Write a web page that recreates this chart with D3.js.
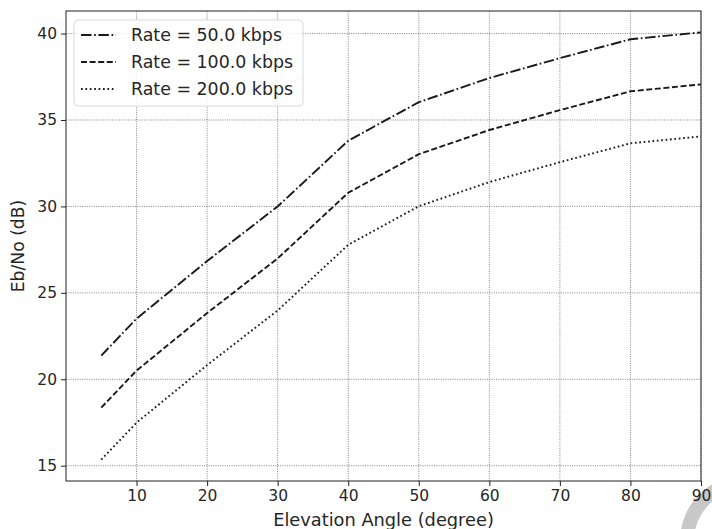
<!DOCTYPE html>
<html>
<head>
<meta charset="utf-8">
<script src="https://cdn.jsdelivr.net/npm/d3@7"></script>
<style>
  html, body { margin: 0; padding: 0; background: #fff; }
  svg { display: block; }
  text { font-family: "DejaVu Sans", sans-serif; fill: #262626; }
</style>
</head>
<body>
<svg id="chart" width="712" height="529"></svg>
<script>
const elevation = [5, 10, 20, 30, 40, 50, 60, 70, 80, 90];
const rate50  = [21.37, 23.51, 26.84, 30.00, 33.80, 36.03, 37.43, 38.58, 39.67, 40.07];
const rate100 = [18.36, 20.50, 23.83, 26.99, 30.79, 33.02, 34.42, 35.57, 36.66, 37.06];
const rate200 = [15.35, 17.49, 20.82, 23.98, 27.78, 30.01, 31.41, 32.56, 33.65, 34.05];
const seriesNames = ["Rate = 50.0 kbps", "Rate = 100.0 kbps", "Rate = 200.0 kbps"];
const xTicks = [10, 20, 30, 40, 50, 60, 70, 80, 90];
const yTicks = [15, 20, 25, 30, 35, 40];
const xLabel = "Elevation Angle (degree)";
const yLabel = "Eb/No (dB)";

const margin = {left: 66, right: 11, top: 11, bottom: 48};
const W = 712, H = 529;
const svg = d3.select("#chart");
const pw = W - margin.left - margin.right;
const ph = H - margin.top - margin.bottom;

const allY = rate50.concat(rate100, rate200);
const yMin = d3.min(allY), yMax = d3.max(allY);
const pad = (yMax - yMin) * 0.05;
const x = d3.scaleLinear().domain([0, 90]).range([margin.left, margin.left + pw]);
const y = d3.scaleLinear().domain([yMin - pad, yMax + pad]).range([margin.top + ph, margin.top]);

// watermark arc (behind everything)
svg.append("path")
  .attr("d", d3.arc().innerRadius(52).outerRadius(66).startAngle(-Math.PI / 2).endAngle(0)())
  .attr("transform", "translate(746,541)")
  .attr("fill", "#c8c8c8");

// grid
const grid = svg.append("g");
grid.selectAll("line.gx").data(xTicks).join("line")
  .attr("x1", d => x(d)).attr("x2", d => x(d))
  .attr("y1", margin.top).attr("y2", margin.top + ph)
  .attr("stroke", "#666").attr("stroke-width", 0.8).attr("stroke-dasharray", "1,1.3");
grid.selectAll("line.gy").data(yTicks).join("line")
  .attr("y1", d => y(d)).attr("y2", d => y(d))
  .attr("x1", margin.left).attr("x2", margin.left + pw)
  .attr("stroke", "#666").attr("stroke-width", 0.8).attr("stroke-dasharray", "1,1.3");

// lines
const styles = [
  {data: rate50, dash: "10.5,2.6,1.7,2.6"},
  {data: rate100, dash: "6,2.6"},
  {data: rate200, dash: "1.7,2.7"}
];
const line = d3.line().x((d, i) => x(elevation[i])).y(d => y(d));
styles.forEach(s => {
  svg.append("path").datum(s.data)
    .attr("d", line)
    .attr("fill", "none")
    .attr("stroke", "#1a1a1a")
    .attr("stroke-width", 1.9)
    .attr("stroke-dasharray", s.dash);
});

// axes
const xAxis = d3.axisBottom(x).tickValues(xTicks).tickSize(5).tickPadding(4);
const yAxis = d3.axisLeft(y).tickValues(yTicks).tickSize(5).tickPadding(4);
const gx = svg.append("g").attr("transform", `translate(0,${margin.top + ph})`).call(xAxis);
const gy = svg.append("g").attr("transform", `translate(${margin.left},0)`).call(yAxis);
[gx, gy].forEach(g => {
  g.select(".domain").remove();
  g.selectAll(".tick line").attr("stroke", "#222").attr("stroke-width", 1);
  g.selectAll(".tick text").attr("font-family", "DejaVu Sans").attr("font-size", 15.5).attr("fill", "#262626");
});

// frame
svg.append("rect").attr("x", margin.left).attr("y", margin.top)
  .attr("width", pw).attr("height", ph)
  .attr("fill", "none").attr("stroke", "#222").attr("stroke-width", 1);

// axis labels
svg.append("text").attr("x", margin.left + pw / 2).attr("y", 526)
  .attr("text-anchor", "middle").attr("font-size", 17.8).text(xLabel);
svg.append("text")
  .attr("transform", `translate(24,${margin.top + ph / 2}) rotate(-90)`)
  .attr("text-anchor", "middle").attr("font-size", 17.2).text(yLabel);

// legend
const lg = svg.append("g");
lg.append("rect").attr("x", 74).attr("y", 20).attr("width", 229).attr("height", 86)
  .attr("rx", 4).attr("fill", "#fff").attr("fill-opacity", 0.85)
  .attr("stroke", "#d9d9d9").attr("stroke-width", 1);
styles.forEach((s, i) => {
  const yy = 35 + i * 27;
  lg.append("line").attr("x1", 81).attr("x2", 116).attr("y1", yy).attr("y2", yy)
    .attr("stroke", "#1a1a1a").attr("stroke-width", 1.9).attr("stroke-dasharray", s.dash);
  lg.append("text").attr("x", 131).attr("y", yy).attr("dy", "0.36em")
    .attr("font-size", 17.4).text(seriesNames[i]);
});
</script>
</body>
</html>
